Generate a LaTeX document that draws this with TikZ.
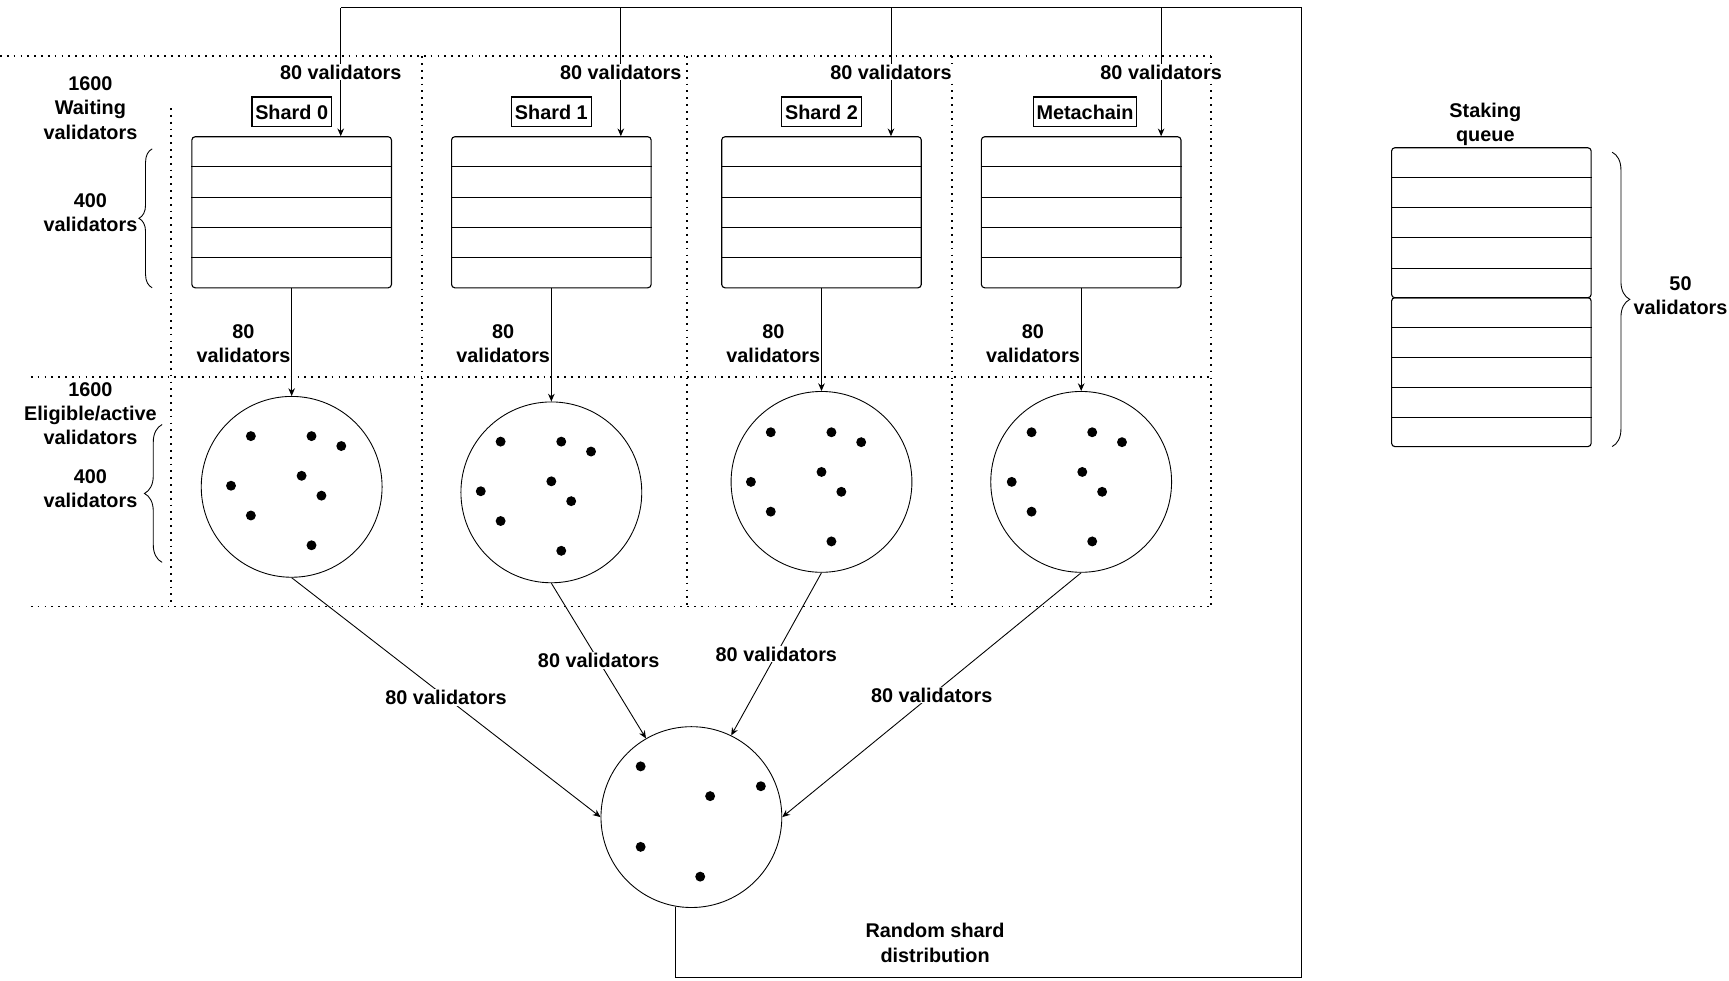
\documentclass[tikz,border=0pt]{standalone}
\usepackage{fontspec}
\setmainfont{Liberation Sans}
\usetikzlibrary{arrows.meta, calc, positioning, decorations.pathreplacing}

\begin{document}
\begin{tikzpicture}[x=1pt, y=-1pt, >={Stealth[length=7pt,width=6pt]},
		every node/.style={font=\bfseries\fontsize{18}{22}\selectfont, align=center},
		listbox/.style={draw, line width=1pt, rounded corners=3pt, minimum width=181pt, minimum height=137pt, inner sep=0pt},
		pool/.style={draw, circle, line width=0.8pt, minimum size=164pt, inner sep=0pt},
		shardtag/.style={draw, line width=1pt, inner xsep=3pt, inner ysep=0pt, minimum height=27pt},
		lbl/.style={fill=white, inner sep=1pt},
		zone/.style={line width=1.6pt, dash pattern=on 1.6pt off 4.6pt},
		flow/.style={->, line width=0.8pt},
		curly/.style={decorate, line width=0.8pt}]
		\useasboundingbox (0,0) rectangle (1568,889);
		
		% dotted grid
		\draw[zone] (0,51) -- (1098,51);
		\draw[zone] (28,342) -- (1098,342);
		\draw[zone] (28,550) -- (1098,550);
		\draw[zone] (155,98) -- (155,550);
		\foreach \x in {383,623,863,1098} \draw[zone] (\x,51) -- (\x,550);
		
		% waiting lists
		\node[listbox] (q0) at (264.5,192.5) {};
		\node[listbox] (q1) at (500,192.5) {};
		\node[listbox] (q2) at (745,192.5) {};
		\node[listbox] (q3) at (980.5,192.5) {};
		\node[listbox, minimum height=136pt] (s1) at (1352.5,202) {};
		\node[listbox, minimum height=135pt] (s2) at (1352.5,337.5) {};
		\foreach \q in {q0,q1,q2,q3,s1,s2}
			\foreach \k in {1,...,4}
				\draw[line width=1pt] ($(\q.north west)!\k/5!(\q.south west)$) -- ($(\q.north east)!\k/5!(\q.south east)$);
		
		\node[shardtag, above=8pt of q0] (t0) {Shard 0};
		\node[shardtag, above=8pt of q1] (t1) {Shard 1};
		\node[shardtag, above=8pt of q2] (t2) {Shard 2};
		\node[shardtag, above=8pt of q3, xshift=3.5pt] (t3) {Metachain};
		
		% eligible pools
		\node[pool] (p0) at (264.5,441.5) {};
		\node[pool] (p1) at (500,446.5) {};
		\node[pool] (p2) at (745,437) {};
		\node[pool] (p3) at (980.5,437) {};
		\node[pool] (bot) at (627,741) {};
		\foreach \c/\dx/\dy in {p0/-37/-46, p1/-46/-46, p2/-46/-45, p3/-45/-45}
			\foreach \u/\v in {0/0, 55/0, 82/9, -18/45, 46/36, 64/54, 0/72, 55/99}
				\fill (\c) ++({\dx+\u},{\dy+\v}) circle (4.5pt);
		\foreach \u/\v in {-46/-46, 17/-19, 63/-28, -46/27, 8/54}
			\fill (bot) ++(\u,\v) circle (4.5pt);
		
		\foreach \i in {0,...,3}{
			\draw[flow] (q\i.south) -- (p\i.north);
			\node[left, inner sep=1pt] (n\i) at ($(q\i.south)+(0,50)$) {80\\validators};
		}
		
		% shuffle back
		\draw[flow] (p0.south) -- (bot.west) node[midway, lbl] {80 validators};
		\draw[flow] (p1.south) -- (bot.120) node[midway, lbl] {80 validators};
		\draw[flow] (p2.south) -- (bot.64) node[midway, lbl] {80 validators};
		\draw[flow] (p3.south) -- (bot.east) node[midway, lbl] {80 validators};
		
		\coordinate (loopR) at (1180,886);
		\coordinate (loopT) at (309,7);
		\draw[line width=0.8pt] (bot.260) |- (loopR) |- (loopT);
		\foreach \i/\x in {0/309, 1/563, 2/808, 3/1053}{
			\coordinate (d\i) at (\x,7);
			\draw[flow] (d\i) -- (d\i |- q\i.north) node[midway, lbl] {80 validators};
		}
		
		% texts
		\node (wait) at (82,98) {1600\\Waiting\\validators};
		\node (wcount) at (82,193) {400\\validators};
		\node (elig) at (82,375) {1600\\Eligible/active\\validators};
		\node (ecount) at (82,443) {400\\validators};
		\node (queue) at (1347,112.5) {Staking\\queue};
		\node (qcount) at (1524,268) {50\\validators};
		\node (rand) at (848,855) {Random shard\\distribution};
		
		\draw[curly, decoration={brace, amplitude=12pt}] (138,261) -- (138,135);
		\draw[curly, decoration={brace, amplitude=16pt}] (147,510) -- (147,385);
		\draw[curly, decoration={brace, amplitude=16pt}] (1462,138) -- (1462,405);
\end{tikzpicture}
\end{document}
